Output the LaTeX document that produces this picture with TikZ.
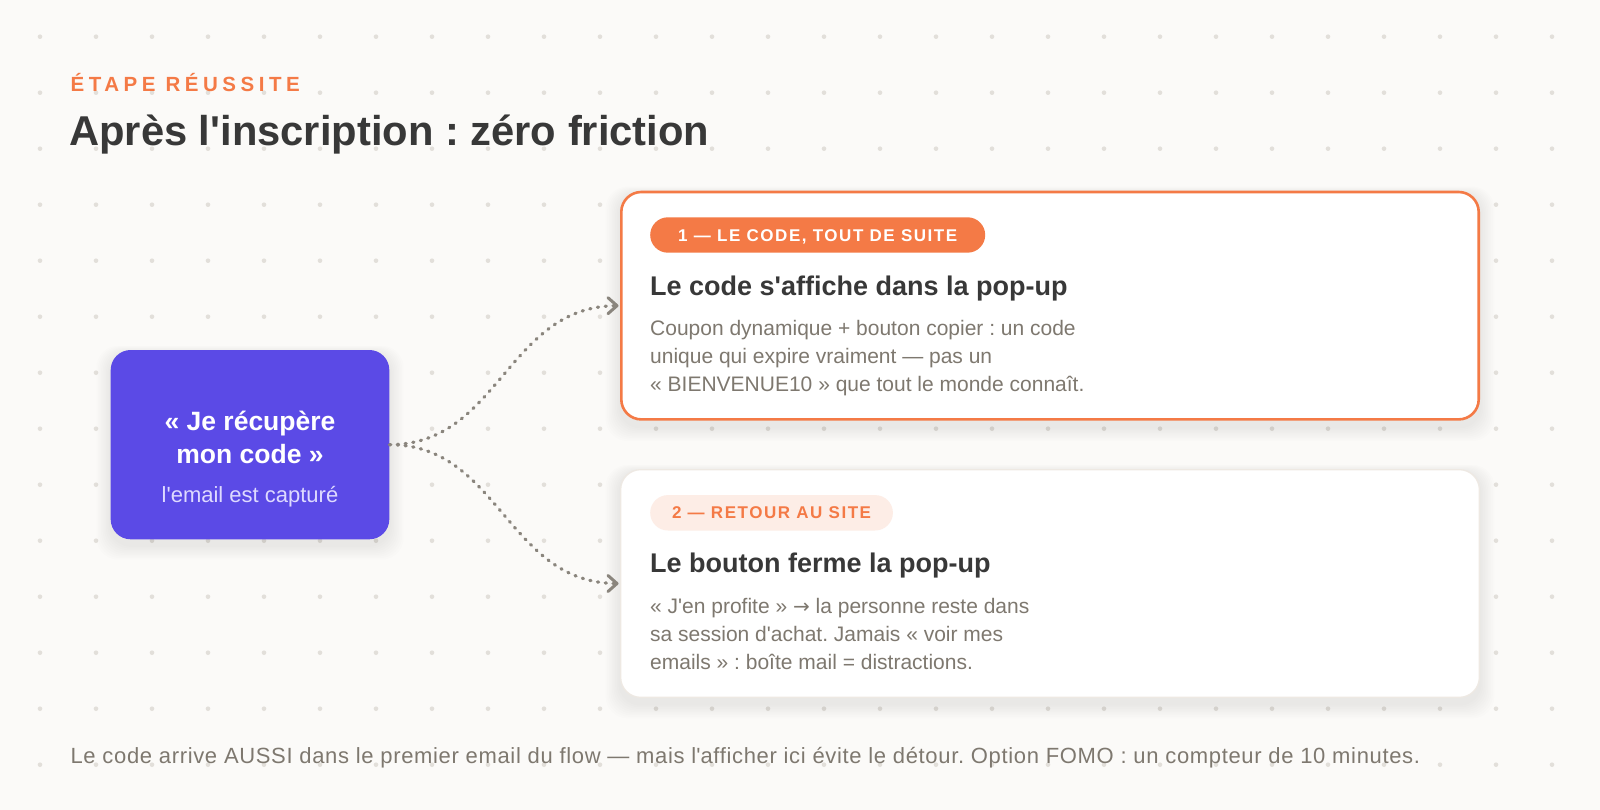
\documentclass[tikz,border=0pt]{standalone}
\usepackage{fontspec}
\setmainfont{Liberation Sans}
\newfontfamily\tagfont[LetterSpace=9]{Liberation Sans}
\newfontfamily\kickfont[LetterSpace=22]{Liberation Sans}
\newfontfamily\footfont[LetterSpace=3]{Liberation Sans}
\newfontfamily\arrowfont{DejaVu Sans}
\usetikzlibrary{arrows.meta}
\definecolor{bgc}{HTML}{FBFAF8}
\definecolor{dotc}{HTML}{E2DFDA}
\definecolor{orng}{HTML}{F47A46}
\definecolor{purp}{HTML}{5B4AE6}
\definecolor{lav}{HTML}{DEDAFF}
\definecolor{darktxt}{HTML}{383838}
\definecolor{graytxt}{HTML}{7E786F}
\definecolor{pinkfill}{HTML}{FDEDE6}
\definecolor{cardline}{HTML}{EEE9E3}
\definecolor{connc}{HTML}{8A857D}
\newcommand\apos{\textquotesingle}
\newcommand\myshadow[4]{%
  \foreach \k in {1,...,9}{%
    \fill[black,opacity=0.007,rounded corners=22pt]
      ({#1-\k*1.6},{#2+3-\k*0.8}) rectangle ({#3+\k*1.6},{#4+6+\k*1.6});}}
\tikzset{
  purplebox/.style={rectangle, rounded corners=20pt, fill=purp, minimum width=278.6pt,
    minimum height=189.3pt, inner sep=0pt},
  cardA/.style={rectangle, rounded corners=20pt, fill=white, draw=orng, line width=2.6pt,
    minimum width=857.4pt, minimum height=227.4pt, inner sep=0pt},
  cardB/.style={rectangle, rounded corners=20pt, fill=white, draw=cardline, line width=1.3pt,
    minimum width=858.7pt, minimum height=227.7pt, inner sep=0pt},
  tagbase/.style={rectangle, rounded corners=17.7pt, minimum height=35.4pt, inner sep=0pt,
    text height=12.2pt, text depth=0pt, font=\tagfont\bfseries\fontsize{17}{20}\selectfont},
  tagA/.style={tagbase, fill=orng, text=white, minimum width=335pt},
  tagB/.style={tagbase, fill=pinkfill, text=orng, minimum width=242.7pt},
  cardtitle/.style={anchor=base west, inner sep=0pt, text=darktxt,
    font=\bfseries\fontsize{27}{32}\selectfont},
  body/.style={anchor=base west, inner sep=0pt, text=graytxt,
    font=\fontsize{21}{28}\selectfont},
  srctitle/.style={anchor=base, inner sep=0pt, text=white,
    font=\bfseries\fontsize{26.5}{32}\selectfont},
  srcsub/.style={anchor=base, inner sep=0pt, text=lav,
    font=\fontsize{22}{26}\selectfont},
  conn/.style={draw=connc, line width=3.2pt, line cap=round, dash pattern=on 1.2pt off 6.6pt},
  chevron/.style={draw=connc, line width=3pt, line cap=round, line join=round},
}
\begin{document}
\frenchspacing
\begin{tikzpicture}[x=1pt,y=-1pt]
\useasboundingbox (0,0) rectangle (1600,810);
\fill[bgc] (0,0) rectangle (1600,810);
% dot grid
\foreach \i in {0,...,27}{\foreach \j in {0,...,13}{
  \fill[dotc] ({40+56*\i},{36.7+56*\j}) circle (2.3);}}
% header
\node[anchor=base west, inner sep=0pt, text=orng, font=\kickfont\bfseries\fontsize{20.5}{24}\selectfont]
  (kick) at (70.4,91.5) {ÉTAPE RÉUSSITE};
\node[anchor=base west, inner sep=0pt, text=darktxt, font=\bfseries\fontsize{41.7}{48}\selectfont]
  (ttl) at (69,146) {Après l\apos inscription : zéro friction};
% shadows
\myshadow{110.7}{350}{389.3}{539.3}
\myshadow{620}{190.7}{1480}{420.7}
\myshadow{620}{469}{1480}{698}
% source node
\node[purplebox] (src) at (250,444.65) {};
\node[srctitle] (srcA) at (250,430) {« Je récupère};
\node[srctitle] (srcB) at (250,463) {mon code »};
\node[srcsub] (srcC) at (250,502) {l\apos email est capturé};
% card 1
\node[cardA] (card1) at (1050,305.7) {};
\node[tagA, anchor=west] (tag1) at (650,235) {1 — LE CODE, TOUT DE SUITE};
\node[cardtitle] (ct1) at (650,295) {Le code s\apos affiche dans la pop-up};
\node[body] (b1a) at (650,335) {Coupon dynamique + bouton copier : un code};
\node[body] (b1b) at (650,363.3) {unique qui expire vraiment — pas un};
\node[body] (b1c) at (650,391.6) {« BIENVENUE10 » que tout le monde connaît.};
% card 2
\node[cardB] (card2) at (1050,583.5) {};
\node[tagB, anchor=west] (tag2) at (650,512.8) {2 — RETOUR AU SITE};
\node[cardtitle] (ct2) at (650,572.7) {Le bouton ferme la pop-up};
\node[body] (b2a) at (650,613.3) {« J\apos en profite » {\arrowfont\fontsize{20}{24}\selectfont →} la personne reste dans};
\node[body] (b2b) at (650,641.6) {sa session d\apos achat. Jamais « voir mes};
\node[body] (b2c) at (650,669.9) {emails » : boîte mail = distractions.};
% connectors
\coordinate (tip1) at ([xshift=-3pt]card1.west);
\coordinate (tip2) at ([xshift=-3pt]card2.west);
\draw[conn] (src.east) .. controls +(110,0) and +(-110,0) .. (tip1);
\draw[conn] (src.east) .. controls +(110,0) and +(-110,0) .. (tip2);
\draw[chevron] ([xshift=-9pt,yshift=8pt]tip1) -- (tip1) -- ([xshift=-9pt,yshift=-8pt]tip1);
\draw[chevron] ([xshift=-9pt,yshift=8pt]tip2) -- (tip2) -- ([xshift=-9pt,yshift=-8pt]tip2);
% footer
\node[anchor=base west, inner sep=0pt, text=graytxt, font=\footfont\fontsize{22}{26}\selectfont]
  (note) at (70.4,763) {Le code arrive AUSSI dans le premier email du flow — mais l\apos afficher ici évite le détour. Option FOMO : un compteur de 10 minutes.};
\end{tikzpicture}
\end{document}
